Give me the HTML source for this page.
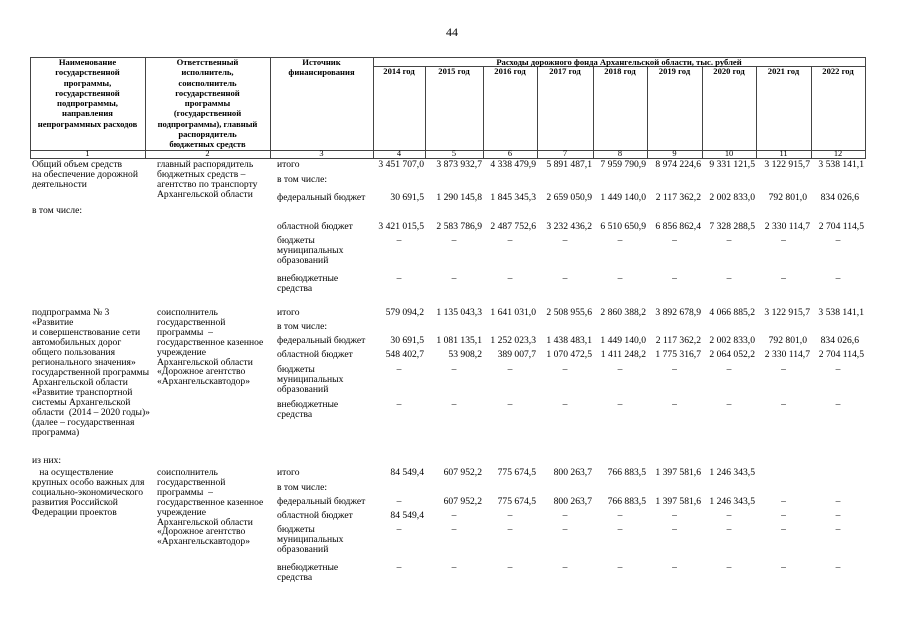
<!DOCTYPE html>
<html><head><meta charset="utf-8"><style>
body{margin:0;width:905px;height:640px;background:#fff;position:relative;overflow:hidden;font-family:"Liberation Serif","DejaVu Serif",serif;color:#000}
.t{position:absolute;font-size:9.6px;line-height:9.9px;white-space:pre}
.h{position:absolute;font-size:8.6px;line-height:10.3px;font-weight:bold;text-align:center;white-space:pre}
.l{position:absolute;background:#444}
.r{position:absolute;left:373px;font-size:9.6px;line-height:9.9px;white-space:nowrap;display:flex}
.r span{display:block;text-align:right;padding-right:1px;box-sizing:border-box}
.d span{text-align:center;padding-right:0}
.r span:nth-child(1){width:52px}.r span:nth-child(2){width:58px}.r span:nth-child(3){width:54px}
.r span:nth-child(4){width:56px}.r span:nth-child(5){width:54px}.r span:nth-child(6){width:55px}
.r span:nth-child(7){width:54px}.r span:nth-child(8){width:55px}.r span:nth-child(9){width:54px}
</style></head><body>
<div class="t" style="left:446px;top:28px;font-size:12px">44</div>

<div class="l" style="left:30px;top:57px;width:835px;height:1px"></div>
<div class="l" style="left:373px;top:66px;width:492px;height:1px"></div>
<div class="l" style="left:30px;top:150px;width:835px;height:1px"></div>
<div class="l" style="left:30px;top:158px;width:835px;height:1px"></div>
<div class="l" style="left:30px;top:57px;width:1px;height:102px"></div>
<div class="l" style="left:145px;top:57px;width:1px;height:102px"></div>
<div class="l" style="left:270px;top:57px;width:1px;height:102px"></div>
<div class="l" style="left:373px;top:57px;width:1px;height:102px"></div>
<div class="l" style="left:425px;top:66px;width:1px;height:93px"></div>
<div class="l" style="left:483px;top:66px;width:1px;height:93px"></div>
<div class="l" style="left:537px;top:66px;width:1px;height:93px"></div>
<div class="l" style="left:593px;top:66px;width:1px;height:93px"></div>
<div class="l" style="left:647px;top:66px;width:1px;height:93px"></div>
<div class="l" style="left:702px;top:66px;width:1px;height:93px"></div>
<div class="l" style="left:756px;top:66px;width:1px;height:93px"></div>
<div class="l" style="left:811px;top:66px;width:1px;height:93px"></div>
<div class="l" style="left:865px;top:57px;width:1px;height:102px"></div>

<div class="h" style="left:30px;width:115px;top:57px">Наименование
государственной
программы,
государственной
подпрограммы,
направления
непрограммных расходов</div>
<div class="h" style="left:145px;width:125px;top:57px">Ответственный
исполнитель,
соисполнитель
государственной
программы
(государственной
подпрограммы), главный
распорядитель
бюджетных средств</div>
<div class="h" style="left:270px;width:103px;top:57px">Источник
финансирования</div>
<div class="h" style="left:373px;width:492px;top:56.5px">Расходы дорожного фонда Архангельской области, тыс. рублей</div>
<div class="r" style="top:67px;font-weight:bold;font-size:8.6px"><span style="text-align:center;padding:0">2014 год</span><span style="text-align:center;padding:0">2015 год</span><span style="text-align:center;padding:0">2016 год</span><span style="text-align:center;padding:0">2017 год</span><span style="text-align:center;padding:0">2018 год</span><span style="text-align:center;padding:0">2019 год</span><span style="text-align:center;padding:0">2020 год</span><span style="text-align:center;padding:0">2021 год</span><span style="text-align:center;padding:0">2022 год</span></div>
<div class="t" style="left:30px;width:115px;top:149px;text-align:center;font-size:8.4px">1</div>
<div class="t" style="left:145px;width:125px;top:149px;text-align:center;font-size:8.4px">2</div>
<div class="t" style="left:270px;width:103px;top:149px;text-align:center;font-size:8.4px">3</div>
<div class="r d" style="top:149px;font-size:8.4px"><span>4</span><span>5</span><span>6</span><span>7</span><span>8</span><span>9</span><span>10</span><span>11</span><span>12</span></div>

<!-- block 1 -->
<div class="t" style="left:32px;top:160px">Общий объем средств
на обеспечение дорожной
деятельности</div>
<div class="t" style="left:32px;top:206px">в том числе:</div>
<div class="t" style="left:157px;top:160px">главный распорядитель
бюджетных средств –
агентство по транспорту
Архангельской области</div>
<div class="t" style="left:277px;top:160px">итого</div>
<div class="t" style="left:277px;top:175px">в том числе:</div>
<div class="t" style="left:277px;top:193px">федеральный бюджет</div>
<div class="t" style="left:277px;top:222px">областной бюджет</div>
<div class="t" style="left:277px;top:236px">бюджеты
муниципальных
образований</div>
<div class="t" style="left:277px;top:274px">внебюджетные
средства</div>
<div class="r" style="top:160px"><span>3 451 707,0</span><span>3 873 932,7</span><span>4 338 479,9</span><span>5 891 487,1</span><span>7 959 790,9</span><span>8 974 224,6</span><span>9 331 121,5</span><span>3 122 915,7</span><span>3 538 141,1</span></div>
<div class="r" style="top:193px"><span>30 691,5</span><span>1 290 145,8</span><span>1 845 345,3</span><span>2 659 050,9</span><span>1 449 140,0</span><span>2 117 362,2</span><span>2 002 833,0</span><span style="padding-right:4px">792 801,0</span><span style="padding-right:6px">834 026,6</span></div>
<div class="r" style="top:222px"><span>3 421 015,5</span><span>2 583 786,9</span><span>2 487 752,6</span><span>3 232 436,2</span><span>6 510 650,9</span><span>6 856 862,4</span><span>7 328 288,5</span><span>2 330 114,7</span><span>2 704 114,5</span></div>
<div class="r d" style="top:236px"><span>–</span><span>–</span><span>–</span><span>–</span><span>–</span><span>–</span><span>–</span><span>–</span><span>–</span></div>
<div class="r d" style="top:274px"><span>–</span><span>–</span><span>–</span><span>–</span><span>–</span><span>–</span><span>–</span><span>–</span><span>–</span></div>

<!-- block 2 -->
<div class="t" style="left:32px;top:308px;line-height:10px">подпрограмма № 3
«Развитие
и совершенствование сети
автомобильных дорог
общего пользования
регионального значения»
государственной программы
Архангельской области
«Развитие транспортной
системы Архангельской
области  (2014 – 2020 годы)»
(далее – государственная
программа)</div>
<div class="t" style="left:32px;top:456px">из них:</div>
<div class="t" style="left:157px;top:308px">соисполнитель
государственной
программы  –
государственное казенное
учреждение
Архангельской области
«Дорожное агентство
«Архангельскавтодор»</div>
<div class="t" style="left:277px;top:308px">итого</div>
<div class="t" style="left:277px;top:322px">в том числе:</div>
<div class="t" style="left:277px;top:336px">федеральный бюджет</div>
<div class="t" style="left:277px;top:350px">областной бюджет</div>
<div class="t" style="left:277px;top:365px">бюджеты
муниципальных
образований</div>
<div class="t" style="left:277px;top:400px">внебюджетные
средства</div>
<div class="r" style="top:308px"><span>579 094,2</span><span>1 135 043,3</span><span>1 641 031,0</span><span>2 508 955,6</span><span>2 860 388,2</span><span>3 892 678,9</span><span>4 066 885,2</span><span>3 122 915,7</span><span>3 538 141,1</span></div>
<div class="r" style="top:336px"><span>30 691,5</span><span>1 081 135,1</span><span>1 252 023,3</span><span>1 438 483,1</span><span>1 449 140,0</span><span>2 117 362,2</span><span>2 002 833,0</span><span style="padding-right:4px">792 801,0</span><span style="padding-right:6px">834 026,6</span></div>
<div class="r" style="top:350px"><span>548 402,7</span><span>53 908,2</span><span>389 007,7</span><span>1 070 472,5</span><span>1 411 248,2</span><span>1 775 316,7</span><span>2 064 052,2</span><span>2 330 114,7</span><span>2 704 114,5</span></div>
<div class="r d" style="top:365px"><span>–</span><span>–</span><span>–</span><span>–</span><span>–</span><span>–</span><span>–</span><span>–</span><span>–</span></div>
<div class="r d" style="top:400px"><span>–</span><span>–</span><span>–</span><span>–</span><span>–</span><span>–</span><span>–</span><span>–</span><span>–</span></div>

<!-- block 3 -->
<div class="t" style="left:32px;top:468px">   на осуществление
крупных особо важных для
социально-экономического
развития Российской
Федерации проектов</div>
<div class="t" style="left:157px;top:468px">соисполнитель
государственной
программы  –
государственное казенное
учреждение
Архангельской области
«Дорожное агентство
«Архангельскавтодор»</div>
<div class="t" style="left:277px;top:468px">итого</div>
<div class="t" style="left:277px;top:483px">в том числе:</div>
<div class="t" style="left:277px;top:497px">федеральный бюджет</div>
<div class="t" style="left:277px;top:511px">областной бюджет</div>
<div class="t" style="left:277px;top:525px">бюджеты
муниципальных
образований</div>
<div class="t" style="left:277px;top:563px">внебюджетные
средства</div>
<div class="r" style="top:468px"><span>84 549,4</span><span>607 952,2</span><span>775 674,5</span><span>800 263,7</span><span>766 883,5</span><span>1 397 581,6</span><span>1 246 343,5</span><span></span><span></span></div>
<div class="r" style="top:497px"><span style="text-align:center;padding:0">–</span><span>607 952,2</span><span>775 674,5</span><span>800 263,7</span><span>766 883,5</span><span>1 397 581,6</span><span>1 246 343,5</span><span style="text-align:center;padding:0">–</span><span style="text-align:center;padding:0">–</span></div>
<div class="r" style="top:511px"><span>84 549,4</span><span style="text-align:center;padding:0">–</span><span style="text-align:center;padding:0">–</span><span style="text-align:center;padding:0">–</span><span style="text-align:center;padding:0">–</span><span style="text-align:center;padding:0">–</span><span style="text-align:center;padding:0">–</span><span style="text-align:center;padding:0">–</span><span style="text-align:center;padding:0">–</span></div>
<div class="r d" style="top:525px"><span>–</span><span>–</span><span>–</span><span>–</span><span>–</span><span>–</span><span>–</span><span>–</span><span>–</span></div>
<div class="r d" style="top:563px"><span>–</span><span>–</span><span>–</span><span>–</span><span>–</span><span>–</span><span>–</span><span>–</span><span>–</span></div>
</body></html>
